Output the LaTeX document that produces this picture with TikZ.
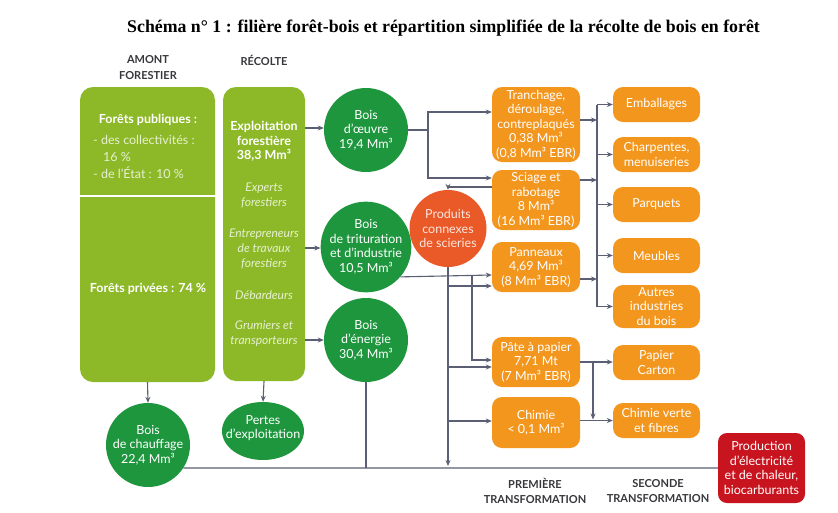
\documentclass[tikz,border=0pt]{standalone}
\usepackage{fontspec}
\setmainfont{Lato}
\newfontfamily\titlefont{Liberation Serif}
\usetikzlibrary{arrows.meta,shapes.geometric}
\definecolor{lgreen}{RGB}{141,185,40}
\definecolor{dgreen}{RGB}{30,150,62}
\definecolor{orng}{RGB}{243,150,30}
\definecolor{rorng}{RGB}{234,90,40}
\definecolor{redbox}{RGB}{200,20,30}
\definecolor{linec}{RGB}{90,95,115}
\definecolor{hdrc}{RGB}{55,55,60}
\colorlet{softw}{white!78!lgreen}
\colorlet{softo}{white!85!rorng}
\begin{document}
\begin{tikzpicture}[x=1pt,y=-1pt,
  txt/.style={align=center, inner sep=0pt, text=white, font=\fontsize{12.5}{14.5}\selectfont},
  lbox/.style={fill=lgreen, rounded corners=13pt, inner sep=0pt},
  gcirc/.style={circle, fill=dgreen, minimum size=84pt, txt},
  obox/.style={fill=orng, rounded corners=10pt, minimum width=88pt, txt},
  hdr/.style={align=center, inner sep=0pt, text=hdrc, font=\bfseries\fontsize{11}{15.5}\selectfont},
  soft/.style={txt, text=softw, font=\itshape\fontsize{12}{15}\selectfont},
  line/.style={draw=linec, line width=1.1pt},
  arr/.style={line, -{Stealth[length=6pt,width=5pt]}}]
\path[use as bounding box, fill=white] (0,0) rectangle (838,512);

% title
\node[inner sep=0pt, font=\titlefont\bfseries\fontsize{17.8}{20}\selectfont] (title) at (443.5,28)
  {Schéma n° 1 : filière forêt-bois et répartition simplifiée de la récolte de bois en forêt};

% column headers
\node[hdr] (hamont) at (148,67.5) {AMONT\\FORESTIER};
\node[hdr] (hrecolte) at (264,60) {RÉCOLTE};
\node[hdr] (hprem) at (535,491) {PREMIÈRE\\TRANSFORMATION};
\node[hdr] (hsec) at (658,491) {SECONDE\\TRANSFORMATION};

% forest owners
\node[lbox, minimum width=135pt, minimum height=295pt] (amont) at (147.5,234.5) {};
\draw[white, line width=1.3pt] (amont.west |- 0,196) -- (amont.east |- 0,196);
\node[txt, font=\bfseries\fontsize{12.5}{14}\selectfont] (pub) at (148,120) {Forêts publiques :};
\node[txt, anchor=west, align=left, text=softw, font=\fontsize{12.5}{17}\selectfont] (pubdet) at (93,157)
  {- des collectivités :\\\hspace*{0.8em}16 \%\\- de l’État : 10 \%};
\node[txt, font=\bfseries\fontsize{12.5}{14}\selectfont] (priv) at (148,289) {Forêts privées : 74 \%};

% harvesting
\node[lbox, minimum width=82pt, minimum height=294pt] (recolte) at (264,234) {};
\node[txt, font=\bfseries\fontsize{12.5}{14.5}\selectfont] (exploit) at (264,141.5) {Exploitation\\forestière\\38,3 Mm³};
\node[soft] (experts) at (264,195.5) {Experts\\forestiers};
\node[soft] (entrep) at (264,248.5) {Entrepreneurs\\de travaux\\forestiers};
\node[soft] (debard) at (264,295) {Débardeurs};
\node[soft] (grum) at (264,333.5) {Grumiers et\\transporteurs};

% wood categories
\node[gcirc] (oeuvre) at (366,130) {Bois\\d’œuvre\\19,4 Mm³};
\node[gcirc] (trit) at (366,247) {Bois\\de trituration\\et d’industrie\\10,5 Mm³};
\node[gcirc] (energie) at (366,340) {Bois\\d’énergie\\30,4 Mm³};
\node[circle, fill=rorng, minimum size=77pt, txt, text=softo] (prod) at (448,228.5) {Produits\\connexes\\de scieries};
\node[gcirc] (chauff) at (148,445) {Bois\\de chauffage\\22,4 Mm³};
\node[ellipse, fill=dgreen, minimum width=82pt, minimum height=58pt, inner sep=0pt] (pertes) at (263,431) {};
\node[txt] (pertestxt) at ([yshift=3pt]pertes.center) {Pertes\\d’exploitation};

% first transformation
\node[obox, minimum height=75pt] (tranch) at (536,124.5) {Tranchage,\\déroulage,\\contreplaqués\\0,38 Mm³\\(0,8 Mm³ EBR)};
\node[obox, minimum height=60pt] (sciage) at (536,200) {Sciage et\\rabotage\\8 Mm³\\(16 Mm³ EBR)};
\node[obox, minimum height=50pt] (pann) at (536,267) {Panneaux\\4,69 Mm³\\(8 Mm³ EBR)};
\node[obox, minimum height=50pt] (pate) at (536,362) {Pâte à papier\\7,71 Mt\\(7 Mm³ EBR)};
\node[obox, minimum height=51pt] (chimie) at (536,422.5) {Chimie\\< 0,1 Mm³};

% second transformation
\node[obox, minimum width=87pt, minimum height=35pt] (emb) at (656.5,104.5) {Emballages};
\node[obox, minimum width=87pt, minimum height=35pt] (charp) at (656.5,154.5) {Charpentes,\\menuiseries};
\node[obox, minimum width=87pt, minimum height=35pt] (parq) at (656.5,204.5) {Parquets};
\node[obox, minimum width=87pt, minimum height=35pt] (meub) at (656.5,255.5) {Meubles};
\node[obox, minimum width=87pt, minimum height=43pt] (autres) at (656.5,306.5) {Autres\\industries\\du bois};
\node[obox, minimum width=87pt, minimum height=35pt] (papier) at (656.5,362.5) {Papier\\Carton};
\node[obox, minimum width=87pt, minimum height=35pt] (chimv) at (656.5,420.5) {Chimie verte\\et fibres};
\node[fill=redbox, rounded corners=9pt, minimum width=87pt, minimum height=70pt, txt] (elec) at (761.5,468)
  {Production\\d’électricité\\et de chaleur,\\biocarburants};

% flows from the forest
\draw[arr] (amont.south) -- (chauff.north);
\draw[arr] (recolte.south) -- (pertes.north);
\draw[arr] (recolte.east |- 0,128) -- (oeuvre.west |- 0,128);
\draw[arr] (recolte.east |- 0,248) -- (trit.west |- 0,248);
\draw[arr] (recolte.east |- 0,340) -- (energie.west |- 0,340);

% timber to first transformation
\coordinate (jo) at (428,130);
\draw[arr] (oeuvre.east) -- (jo) |- ([yshift=12.5pt]tranch.west);
\draw[arr] (jo) |- ([yshift=22pt]sciage.west);
\draw[arr] ([yshift=13pt]sciage.west) -| (prod.north);

% pulpwood and sawmill by-products
\coordinate (jt) at (472,275);
\draw[arr] (trit.-41.8) -- ([yshift=-8pt]pann.west);
\draw[arr] (jt) |- ([yshift=2pt]pate.west);
\coordinate (bottom) at (448,468);
\draw[arr] (prod.south) -- ([yshift=2pt]bottom);
\draw[arr] (prod.south |- 0,286) -- ([yshift=-19pt]pann.west);
\draw[arr] (prod.south |- 0,367) -- ([yshift=-5pt]pate.west);
\draw[arr] (prod.south |- 0,421) -- ([yshift=1.5pt]chimie.west);

% energy line
\draw[line] (energie.south) -- (energie.south |- bottom);
\draw[line] (chauff.-33.2) -- (elec.west);

% second transformation distribution
\coordinate (bus) at (597,0);
\draw[line] (bus |- emb.west) -- (bus |- autres.west);
\draw[arr] ([yshift=4.5pt]tranch.east) -- (bus |- 0,120);
\draw[arr] ([yshift=20pt]sciage.east) -- (bus |- 0,180);
\draw[arr] ([yshift=-12pt]pann.east) -- (bus |- 0,279);
\foreach \b in {emb,charp,parq,meub,autres}
  \draw[arr] (bus |- \b.west) -- (\b.west);

% paper and chemistry
\coordinate (jp) at (593,362);
\draw[arr] (pate.east) -- (papier.west |- pate.east);
\draw[arr] (jp) -- (593,419.5);
\draw[arr] (chimie.east |- chimv.west) -- (chimv.west);
\end{tikzpicture}
\end{document}
